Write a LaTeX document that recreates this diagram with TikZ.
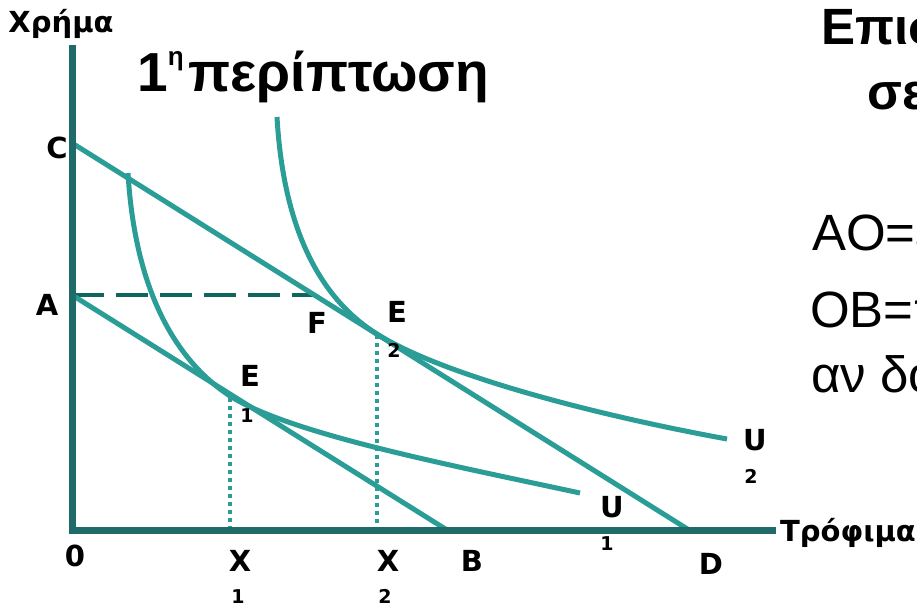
\documentclass[tikz,border=0pt]{standalone}
\usepackage{fontspec}
\setmainfont{Liberation Sans}[BoldFont={Liberation Sans Bold}]
\newfontfamily\lblfont{DejaVu Sans}[BoldFont={DejaVu Sans Bold}]
\definecolor{tealc}{HTML}{2A9D96}
\definecolor{axisc}{HTML}{1E6B69}
\definecolor{dashc}{HTML}{10665F}
\begin{document}
\begin{tikzpicture}[x=1pt,y=-1pt,
  lbl/.style={font=\lblfont\bfseries\fontsize{29}{34}\selectfont, anchor=base, inner sep=0pt},
  sublbl/.style={font=\lblfont\bfseries\fontsize{19}{22}\selectfont, anchor=base, inner sep=0pt},
  curve/.style={draw=tealc, line width=5pt},
  axisline/.style={draw=axisc, line width=7pt},
  guide/.style={draw=dashc, line width=4pt, dash pattern=on 32pt off 12pt},
  dotline/.style={draw=tealc, line width=3.5pt, dash pattern=on 4pt off 4pt},
  bigbold/.style={font=\bfseries\fontsize{51}{56}\selectfont, anchor=base west, inner sep=0pt},
  bigreg/.style={font=\fontsize{51}{56}\selectfont, anchor=base west, inner sep=0pt}]
\useasboundingbox (0,0) rectangle (917,607);
\fill[white] (0,0) rectangle (917,607);
% key points
\coordinate (Ytop) at (72,45);
\coordinate (O) at (72,530);
\coordinate (Xend) at (776,530);
\coordinate (C) at (72,143);
\coordinate (A) at (72,295);
\coordinate (B) at (447,530);
\coordinate (D) at (689,530);
\coordinate (F) at (313,295);
\coordinate (E1) at (230,398);
\coordinate (E2) at (377,335);
\coordinate (X1) at (230,530);
\coordinate (X2) at (377,530);
\coordinate (U1a) at (128,173);
\coordinate (U1b) at (580,493);
\coordinate (U2a) at (277,117);
\coordinate (U2b) at (727,439);
% guides
\draw[dotline] (E1) -- (X1);
\draw[dotline] (E2) -- (X2);
\draw[guide] (A) -- (F);
% budget lines
\draw[curve] (C) -- (D);
\draw[curve] (A) -- (B);
% indifference curves
\draw[curve] (U1a) .. controls (135,290) and (175,360) .. (230,396)
                   .. controls (290,434) and (450,465) .. (U1b);
\draw[curve] (U2a) .. controls (284,240) and (327,303) .. (377,334)
                   .. controls (440,374) and (590,414) .. (U2b);
% axes
\draw[axisline, line join=miter] (Ytop) -- (O) -- (Xend);
% axis labels
\node[lbl] (ylab) at (61,33) {Χρήμα};
\node[lbl] (xlab) at (848,541) {Τρόφιμα};
\node[lbl] (lC) at (57,158) {C};
\node[lbl] (lA) at (47,315) {A};
\node[lbl] (lF) at (317,333) {F};
\node[lbl] (lE2) at (397,322) {E};
\node[sublbl] (lE2s) at (394,357) {2};
\node[lbl] (lE1) at (250,386) {E};
\node[sublbl] (lE1s) at (247,422) {1};
\node[lbl] (lU2) at (755,450) {U};
\node[sublbl] (lU2s) at (751,483) {2};
\node[lbl] (lU1) at (612,517) {U};
\node[sublbl] (lU1s) at (607,550) {1};
\node[lbl] (l0) at (75,566) {0};
\node[lbl] (lX1) at (240,571) {X};
\node[sublbl] (lX1s) at (238,603) {1};
\node[lbl] (lX2) at (388,571) {X};
\node[sublbl] (lX2s) at (385,603) {2};
\node[lbl] (lB) at (472,571) {B};
\node[lbl] (lD) at (711,574) {D};
% title
\node[font=\bfseries\fontsize{55}{60}\selectfont, anchor=base west, inner sep=0pt] (title) at (137,92) {1\raisebox{26pt}{\bfseries\fontsize{26}{28}\selectfont η}\hspace{5pt}περίπτωση};
% right-hand text (cut by the page edge)
\begin{scope}
\clip (0,0) rectangle (917,607);
\node[bigbold] (h1) at (821,45) {Επισιτιστική};
\node[bigbold] (h2) at (867,110) {σε είδος};
\node[bigreg] (t1) at (812,250) {AO=εισόδημα};
\node[bigreg] (t2) at (810,327) {OB=ποσότητα};
\node[bigreg] (t3) at (811,392) {αν δοθεί};
\end{scope}
\end{tikzpicture}
\end{document}
